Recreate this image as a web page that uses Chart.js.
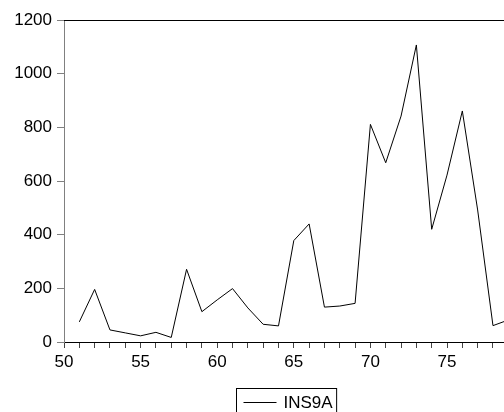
<!DOCTYPE html>
<html>
<head>
<meta charset="utf-8">
<script src="https://cdn.jsdelivr.net/npm/chart.js@4/dist/chart.umd.min.js"></script>
<style>
  html, body { margin: 0; padding: 0; background: #fff; }
  #wrap { width: 504px; height: 412px; }
</style>
</head>
<body>
<div id="wrap"><canvas id="myChart" width="504" height="412"></canvas></div>
<script>
// years (two-digit) and series values
const years = [51, 52, 53, 54, 55, 56, 57, 58, 59, 60, 61, 62, 63, 64, 65,
               66, 67, 68, 69, 70, 71, 72, 73, 74, 75, 76, 77, 78, 79];
const ins9a = [75, 196, 45, 34, 23, 36, 17, 271, 113, 157, 199, 127, 66, 60, 378,
               440, 130, 134, 144, 811, 668, 842, 1107, 420, 622, 861, 492, 61, 82];
const seriesName = 'INS9A';

const fontFam = '"Liberation Sans", Arial, sans-serif';

// top frame line
const topFrame = {
    id: 'topFrame',
    afterDraw(chart) {
        const a = chart.chartArea;
        const ctx = chart.ctx;
        ctx.save();
        ctx.strokeStyle = '#000';
        ctx.lineWidth = 1;
        ctx.beginPath();
        ctx.moveTo(a.left, a.top + 0.5);
        ctx.lineTo(a.right, a.top + 0.5);
        ctx.stroke();
        ctx.restore();
    }
};

// boxed legend under the plot
const boxLegend = {
    id: 'boxLegend',
    afterDraw(chart) {
        const ctx = chart.ctx;
        const label = chart.data.datasets[0].label;
        ctx.save();
        ctx.font = '17px ' + fontFam;
        const tw = ctx.measureText(label).width;
        const boxW = 7 + 33 + 7 + tw + 4;
        const x0 = 236.5;
        const y0 = 388.5;
        ctx.strokeStyle = '#000';
        ctx.lineWidth = 1;
        ctx.strokeRect(x0, y0, boxW, 30);
        ctx.beginPath();
        ctx.moveTo(x0 + 7, 402.5);
        ctx.lineTo(x0 + 40, 402.5);
        ctx.stroke();
        ctx.fillStyle = '#000';
        ctx.textBaseline = 'middle';
        ctx.fillText(label, x0 + 47, 403);
        ctx.restore();
    }
};

const data = {
    datasets: [{
        label: seriesName,
        data: years.map((y, i) => ({ x: y, y: ins9a[i] })),
        borderColor: '#000',
        borderWidth: 1,
        pointRadius: 0,
        tension: 0,
        fill: false
    }]
};

const config = {
    type: 'line',
    data: data,
    options: {
        responsive: false,
        animation: false,
        layout: { padding: { top: 20, left: 0, right: 0, bottom: 0 } },
        plugins: {
            legend: { display: false },
            tooltip: { enabled: false }
        },
        scales: {
            x: {
                type: 'linear',
                min: 50,
                max: 78.72,
                afterFit: (s) => { s.height = 70; },
                border: { display: true, color: '#000', width: 1 },
                grid: { drawOnChartArea: false, drawTicks: true, tickLength: 6, color: '#444' },
                ticks: {
                    stepSize: 1,
                    includeBounds: false,
                    autoSkip: false,
                    maxRotation: 0,
                    padding: 4,
                    color: '#000',
                    font: { family: fontFam, size: 17 },
                    callback: (v) => (v % 5 === 0 ? String(v) : '')
                }
            },
            y: {
                min: 0,
                max: 1200,
                afterFit: (s) => { s.width = 64; },
                border: { display: true, color: '#808080', width: 1 },
                grid: { drawOnChartArea: false, drawTicks: true, tickLength: 7, color: '#808080' },
                ticks: {
                    stepSize: 200,
                    padding: 5,
                    color: '#000',
                    font: { family: fontFam, size: 17 },
                    callback: (v) => String(v)
                }
            }
        }
    },
    plugins: [topFrame, boxLegend]
};

const myChart = new Chart(document.getElementById('myChart'), config);
</script>
</body>
</html>
